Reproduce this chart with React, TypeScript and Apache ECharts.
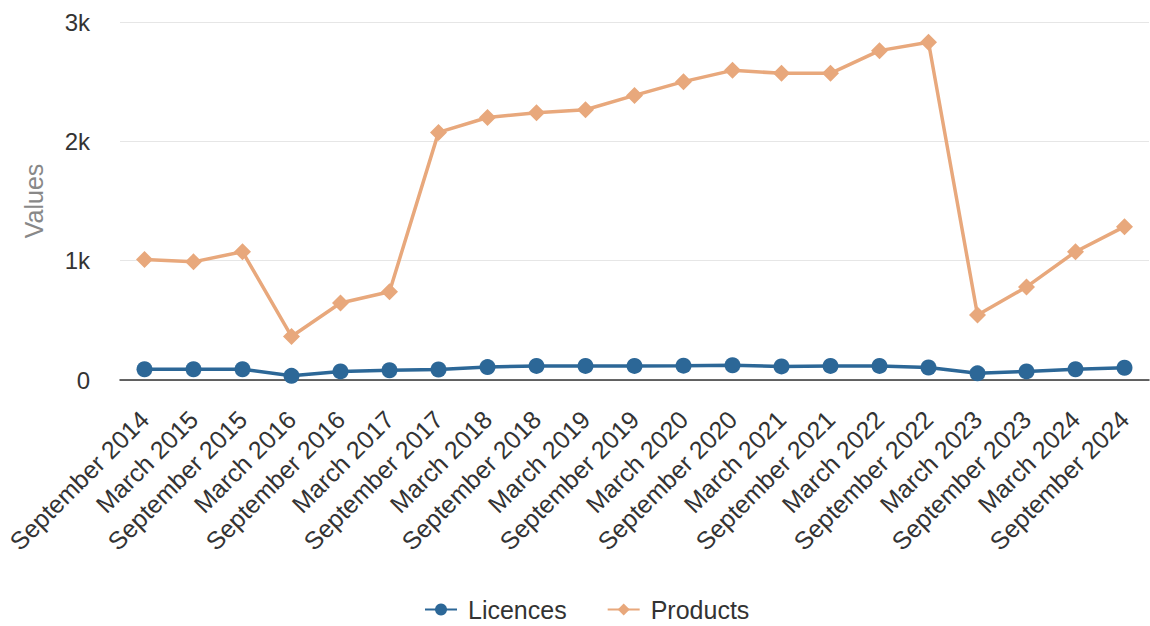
import React, { useEffect, useRef } from "react";
import * as echarts from "echarts";

const categories = [
  "September 2014", "March 2015", "September 2015", "March 2016", "September 2016",
  "March 2017", "September 2017", "March 2018", "September 2018", "March 2019",
  "September 2019", "March 2020", "September 2020", "March 2021", "September 2021",
  "March 2022", "September 2022", "March 2023", "September 2023", "March 2024",
  "September 2024",
];

const licences = [90, 90, 90, 35, 72, 82, 88, 108, 118, 118, 118, 120, 124, 114, 118, 118, 105, 56, 72, 90, 103];

const products = [1010, 990, 1075, 365, 645, 740, 2075, 2200, 2240, 2265, 2385, 2500, 2595, 2570, 2570, 2760, 2830, 545, 780, 1075, 1285];

const yTicks = [0, 1000, 2000, 3000];
const yTickLabels = ["0", "1k", "2k", "3k"];

const FONT = "'Liberation Sans', Arial, Helvetica, sans-serif";
const BLUE = "#2c6797";
const ORANGE = "#e8a87c";

export default function App() {
  const ref = useRef<HTMLDivElement>(null);
  useEffect(() => {
    if (!ref.current) return;
    const chart = echarts.init(ref.current, null, { renderer: "svg" });
    chart.setOption({
      animation: false,
      textStyle: { fontFamily: FONT },
      grid: { left: 120, right: 1, top: 22, bottom: 246, containLabel: false },
      legend: {
        top: 597,
        left: 424,
        padding: 0,
        itemWidth: 32,
        itemHeight: 15,
        itemGap: 40,
        textStyle: { fontSize: 25, color: "#333", fontFamily: FONT, padding: [0, 0, 0, 6] },
        data: ["Licences", "Products"],
      },
      xAxis: {
        type: "category",
        data: categories,
        boundaryGap: true,
        axisTick: { show: false },
        axisLine: { show: true, lineStyle: { color: "#333", width: 1.5 } },
        axisLabel: {
          rotate: 45,
          interval: 0,
          margin: 35,
          fontSize: 25,
          color: "#333",
          fontFamily: FONT,
        },
      },
      yAxis: {
        type: "value",
        min: 0,
        max: 3000,
        interval: 1000,
        name: "Values",
        nameLocation: "middle",
        nameGap: 74,
        nameTextStyle: { fontSize: 25, color: "#888", fontFamily: FONT },
        axisLine: { show: false },
        axisTick: { show: false },
        splitLine: { lineStyle: { color: "#e6e6e6", width: 1 } },
        axisLabel: {
          fontSize: 24,
          color: "#333",
          margin: 30,
          fontFamily: FONT,
          formatter: (v: number) => {
            const i = yTicks.indexOf(v);
            return i >= 0 ? yTickLabels[i] : String(v);
          },
        },
      },
      series: [
        {
          name: "Licences",
          type: "line",
          data: licences,
          symbol: "circle",
          symbolSize: 16,
          lineStyle: { color: BLUE, width: 3.5 },
          itemStyle: { color: BLUE },
          z: 3,
        },
        {
          name: "Products",
          type: "line",
          data: products,
          symbol: "diamond",
          symbolSize: 17,
          lineStyle: { color: ORANGE, width: 3.5 },
          itemStyle: { color: ORANGE },
          z: 2,
        },
      ],
    });
    return () => chart.dispose();
  }, []);
  return (
    <div
      ref={ref}
      style={{ position: "fixed", left: 0, top: 0, width: 1150, height: 626, background: "#fff" }}
    />
  );
}
